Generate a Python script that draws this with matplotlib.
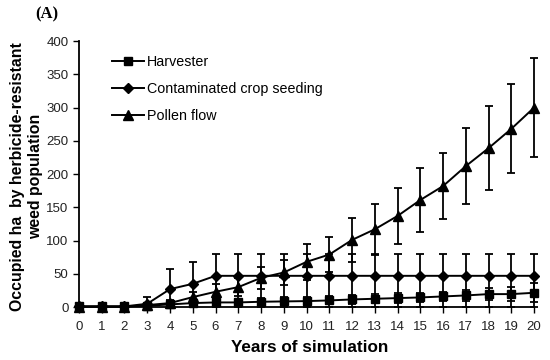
import matplotlib
matplotlib.use('Agg')
import matplotlib.pyplot as plt
from matplotlib.lines import Line2D
import numpy as np

plt.rcParams['font.family'] = ['Liberation Sans', 'DejaVu Sans']

years = np.arange(0, 21)

# values
harvester = [1, 1, 1, 2, 4, 6, 7, 7, 8, 8.5, 9, 10, 11.5, 12.5, 13.5, 14.5, 16, 17.5, 19.5, 19.5, 21.5]
harvester_err = [1, 1, 1, 2, 3, 4, 5, 5, 6, 6, 6, 6, 6.5, 7, 7, 7, 7, 8.5, 9.5, 11, 14]

seeding = [1, 1, 1, 5, 27, 35, 47, 47, 47, 47, 47, 47, 47, 47, 47, 47, 47, 47, 47, 47, 47]
seeding_err_low = [1, 1, 1, 5, 27, 35, 47, 47, 47, 47, 47, 47, 47, 47, 47, 47, 47, 47, 47, 47, 47]
seeding_err_up = [1, 1, 1, 10, 31, 33, 33, 33, 33, 33, 33, 33, 33, 33, 33, 33, 33, 33, 33, 33, 33]

pollen = [0.5, 0.5, 0.5, 3, 6, 15, 23, 30, 44, 52, 68, 79, 101, 117, 137, 161, 182, 212, 239, 268, 300]
pollen_err = [0.5, 0.5, 0.5, 2, 4, 8, 12, 14, 17, 19, 27, 27, 33, 38, 42, 48, 50, 57, 63, 67, 74]

labels = ['Harvester', 'Contaminated crop seeding', 'Pollen flow']
markers = ['s', 'D', '^']
msizes = [5.5, 5, 6.5]

fig = plt.figure(figsize=(5.5, 3.6), dpi=100)
ax = fig.add_axes([0.1436, 0.147, 0.8275, 0.739])

common = dict(color='black', ecolor='black', elinewidth=1.3, capsize=3.2,
              capthick=1.3, linewidth=1.4, clip_on=False)
ax.errorbar(years, harvester, yerr=harvester_err, marker=markers[0],
            markersize=msizes[0], **common)
ax.errorbar(years, seeding, yerr=[seeding_err_low, seeding_err_up],
            marker=markers[1], markersize=msizes[1], **common)
ax.errorbar(years, pollen, yerr=pollen_err, marker=markers[2],
            markersize=msizes[2], **common)

ax.set_xlim(0, 20)
ax.set_ylim(0, 400)
ax.set_xticks(years)
ax.set_yticks(np.arange(0, 401, 50))
ax.tick_params(axis='both', direction='out', length=4, width=1, labelsize=9.5,
               colors='black', labelcolor='#222222')
ax.tick_params(axis='x', pad=6)
for s in ['top', 'right']:
    ax.spines[s].set_visible(False)
for s in ['left', 'bottom']:
    ax.spines[s].set_linewidth(1.3)

ax.set_xlabel('Years of simulation', fontsize=12.3, fontweight='bold')
ax.xaxis.set_label_coords(0.508, -0.125)
ax.set_ylabel('Occupied ha  by herbicide-resistant\nweed population', fontsize=11.4,
              fontweight='bold', linespacing=1.3, multialignment='center')
ax.yaxis.set_label_coords(-0.078, 0.49)

handles = [Line2D([], [], color='black', linewidth=1.4, marker=m, markersize=ms)
           for m, ms in zip(markers, msizes)]
ax.legend(handles, labels, loc='upper left', bbox_to_anchor=(0.045, 0.995),
          frameon=False, fontsize=10.3, handlelength=2.2, handletextpad=0.2,
          labelspacing=0.9)

fig.text(0.064, 0.96, '(A)', fontsize=12, fontweight='bold',
         family=['Liberation Serif', 'DejaVu Serif'], va='center')

fig.savefig('out.png', dpi=100)
